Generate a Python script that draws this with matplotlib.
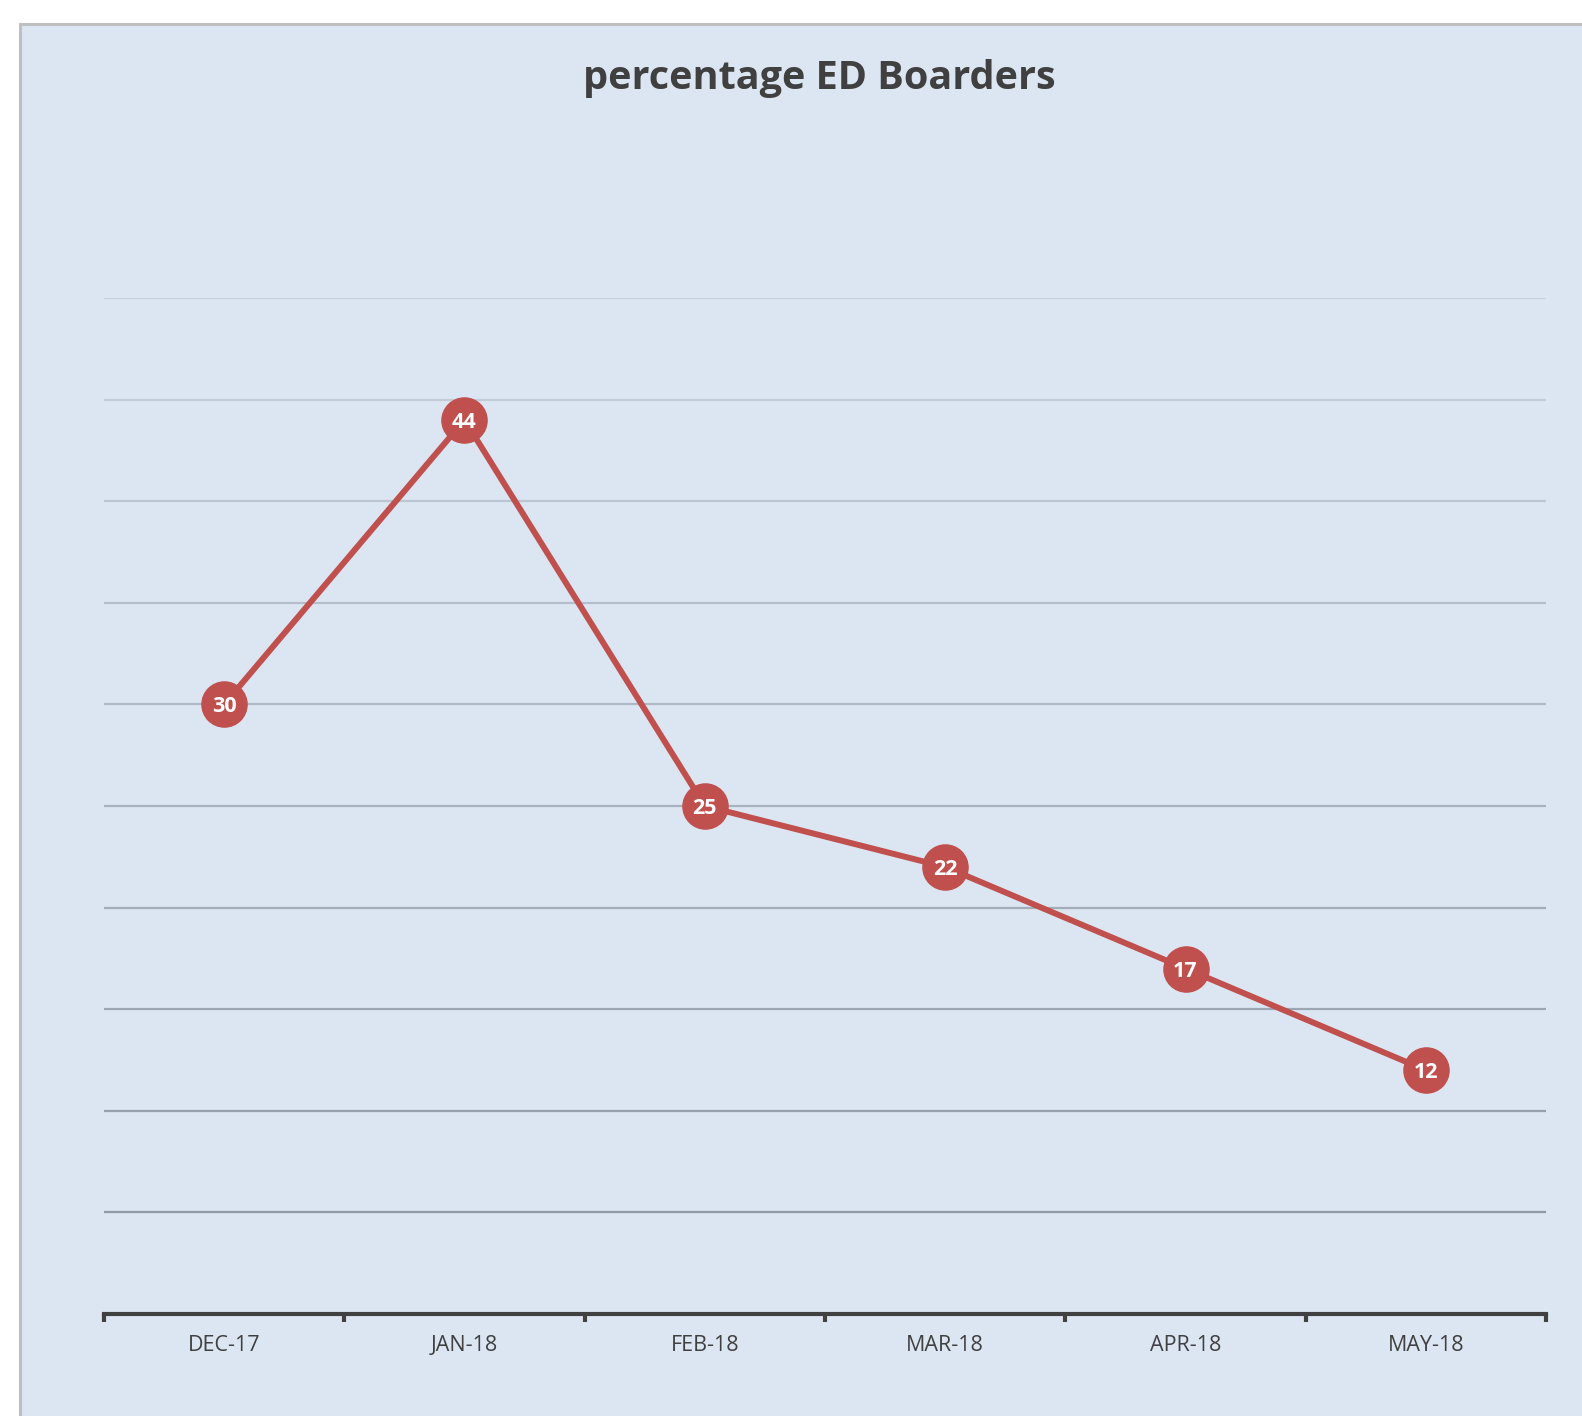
import matplotlib.pyplot as plt
import matplotlib.patches as patches
import numpy as np

months = ['DEC-17', 'JAN-18', 'FEB-18', 'MAR-18', 'APR-18', 'MAY-18']
boarders_pct = [30, 44, 25, 22, 17, 12]
grid_values = [5, 10, 15, 20, 25, 30, 35, 40, 45, 50]

fig = plt.figure(figsize=(15.82, 14.16), dpi=100)
fig.patch.set_facecolor('white')

# chart area background with grey border (cropped at right/bottom)
bg = patches.Rectangle((20 / 1582, -0.1), 1.2, 1.1 - 24 / 1416, transform=fig.transFigure,
                       facecolor='#DCE6F2', edgecolor='#BFBFBF', linewidth=2.2, zorder=-5)
fig.patches.append(bg)

ax = fig.add_axes([104 / 1582, 1 - 1314 / 1416, (1546 - 104) / 1582, (1314 - 298) / 1416])
ax.set_zorder(2)
ax.set_facecolor('none')

x = np.arange(len(months))
ax.set_xlim(-0.5, len(months) - 0.5)
ax.set_ylim(0, 50)

# gridlines get darker towards the bottom
light = np.array([0xC8, 0xD2, 0xDF]) / 255
dark = np.array([0x8A, 0x94, 0xA0]) / 255
for v in grid_values:
    t = v / 50
    col = dark * (1 - t) + light * t
    ax.axhline(v, color=col, linewidth=1.6, zorder=1)

ax.plot(x, boarders_pct, color='#C0504D', linewidth=4.3, marker='o', markersize=32.5,
        markerfacecolor='#C0504D', markeredgecolor='#C0504D', zorder=3, clip_on=False)
for xi, v in zip(x, boarders_pct):
    ax.text(xi, v, str(v), ha='center', va='center_baseline', color='white', fontsize=15.5,
            fontweight='bold', family='Open Sans', zorder=4)

for s in ['top', 'right', 'left']:
    ax.spines[s].set_visible(False)
ax.spines['bottom'].set_color('#404040')
ax.spines['bottom'].set_linewidth(3)

ax.set_yticks([])
ax.set_xticks(np.arange(len(months) + 1) - 0.5, minor=False)
ax.set_xticklabels([''] * (len(months) + 1))
ax.tick_params(axis='x', which='major', length=6, width=3, color='#404040', direction='out')
ax.set_xticks(x, minor=True)
ax.set_xticklabels(months, minor=True)
ax.tick_params(axis='x', which='minor', length=0, pad=15, labelsize=15.5, labelcolor='#404040')
for lab in ax.get_xticklabels(minor=True):
    lab.set_family('Open Sans')

fig.text(819 / 1582, 1 - 79 / 1416, 'percentage ED Boarders', ha='center', va='center',
         fontsize=28.5, fontweight='bold', color='#404040', family='Open Sans')

fig.savefig('out.png', dpi=100)
